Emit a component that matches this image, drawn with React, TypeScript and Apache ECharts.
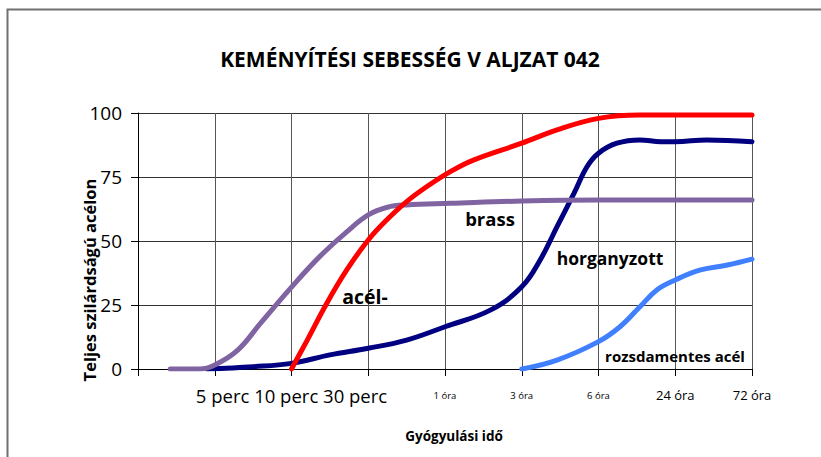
import React, { useEffect, useRef } from "react";
import * as echarts from "echarts";

const tickLabels = ["", "", "5 perc 10 perc 30 perc", "", "1 óra", "3 óra", "6 óra", "24 óra", "72 óra"];
const tickStyles = ["big", "big", "big", "big", "small", "small", "small", "mid", "mid"];

const horganyzott: [number, number][] = [
  [0.9, 0], [1.5, 0.9], [2.0, 2.2], [2.5, 5.5], [3.0, 8.1], [3.5, 11.3], [4.0, 16.5],
  [4.59, 23], [5.0, 32.1], [5.24, 42.6], [5.46, 55.6], [5.68, 68.6], [5.85, 79],
  [6.0, 84.3], [6.24, 88.2], [6.54, 89.5], [6.81, 88.8], [7.0, 88.8], [7.41, 89.5], [8.0, 88.8],
];
const brass: [number, number][] = [
  [0.42, 0], [0.8, 0], [1.0, 1.6], [1.3, 7.4], [1.6, 18], [2.0, 32], [2.37, 44],
  [2.72, 53.6], [3.0, 60.2], [3.25, 63.2], [3.5, 64.1], [4.07, 64.7], [5.0, 65.6],
  [6.0, 66], [7.0, 66], [8.0, 66],
];
const acel: [number, number][] = [
  [2.0, 0], [2.2, 11], [2.46, 25.7], [2.72, 38.7], [3.0, 50.4], [3.24, 58.2], [3.5, 65.4],
  [3.76, 71.2], [4.07, 77.1], [4.37, 81.6], [5.0, 88.2], [5.46, 93.4], [6.0, 97.9],
  [6.54, 99.2], [7.0, 99.2], [8.0, 99.2],
];
const rozsdamentes: [number, number][] = [
  [5.0, 0], [5.46, 3.5], [6.0, 10.7], [6.28, 16.5], [6.54, 24.3], [6.76, 30.9],
  [7.0, 34.8], [7.33, 38.7], [7.68, 40.6], [8.0, 42.9],
];

const FONT = "'Open Sans', 'Noto Sans', sans-serif";

export default function App() {
  const ref = useRef<HTMLDivElement>(null);
  useEffect(() => {
    if (!ref.current) return;
    const chart = echarts.init(ref.current, undefined, { renderer: "svg" });
    const line = (name: string, data: [number, number][], color: string) => ({
      name,
      type: "line",
      data,
      smooth: 0.4,
      symbol: "none",
      lineStyle: { color, width: 5, cap: "round" },
      z: 3,
    });
    const label = (text: string, x: number, y: number, size: number, rotation = 0) => ({
      type: "text",
      x,
      y,
      rotation,
      z: 100,
      style: {
        text,
        fontSize: size,
        fontWeight: "bold",
        fontFamily: FONT,
        fill: "#000",
        textAlign: "center",
        textVerticalAlign: "middle",
        align: "center",
        verticalAlign: "middle",
      },
    });
    chart.setOption({
      animation: false,
      backgroundColor: "#fff",
      textStyle: { fontFamily: FONT },
      grid: { left: 138, right: 69, top: 113, bottom: 88, containLabel: false },
      xAxis: {
        type: "value",
        min: 0,
        max: 8,
        interval: 1,
        axisLine: { show: true, lineStyle: { color: "#000", width: 1 } },
        axisTick: { show: true, length: 7, lineStyle: { color: "#000" } },
        splitLine: { show: true, lineStyle: { color: "#555", width: 1 } },
        axisLabel: {
          margin: 14,
          color: "#000",
          showMinLabel: true,
          showMaxLabel: true,
          formatter: (v: number) => {
            const i = Math.round(v);
            const t = tickLabels[i] || "";
            return t ? `{${tickStyles[i]}|${t}}` : "";
          },
          rich: {
            big: { fontSize: 18.5, lineHeight: 24, fontFamily: FONT, color: "#000" },
            mid: { fontSize: 13, lineHeight: 24, fontFamily: FONT, color: "#000" },
            small: { fontSize: 9.5, lineHeight: 24, fontFamily: FONT, color: "#000" },
          },
        },
      },
      yAxis: {
        type: "value",
        min: 0,
        max: 100,
        interval: 25,
        axisLine: { show: true, lineStyle: { color: "#000", width: 1 } },
        axisTick: { show: true, length: 7, lineStyle: { color: "#000" } },
        splitLine: { show: true, lineStyle: { color: "#333", width: 1 } },
        axisLabel: { margin: 16, fontSize: 19, color: "#000", fontFamily: FONT },
      },
      series: [
        line("horganyzott", horganyzott, "#000080"),
        line("brass", brass, "#8064A2"),
        line("acél", acel, "#FF0000"),
        line("rozsdamentes acél", rozsdamentes, "#4080FF"),
      ],
      graphic: [
        {
          type: "rect",
          shape: { x: 7.5, y: 9.5, width: 1000, height: 1000 },
          style: { fill: "none", stroke: "#707070", lineWidth: 2 },
          z: 0,
          silent: true,
        },
        label("KEMÉNYÍTÉSI SEBESSÉG V ALJZAT 042", 410, 59, 21),
        label("Teljes szilárdságú acélon", 89, 280, 16.5, Math.PI / 2),
        label("Gyógyulási idő", 454, 436, 13.5),
        label("acél-", 365, 296, 19.5),
        label("brass", 490, 218, 18.5),
        label("horganyzott", 610, 258, 17.5),
        label("rozsdamentes acél", 675, 356, 15),
      ],
    });
    return () => chart.dispose();
  }, []);
  return (
    <div
      ref={ref}
      style={{ position: "fixed", left: 0, top: 0, width: 821, height: 457 }}
    />
  );
}
